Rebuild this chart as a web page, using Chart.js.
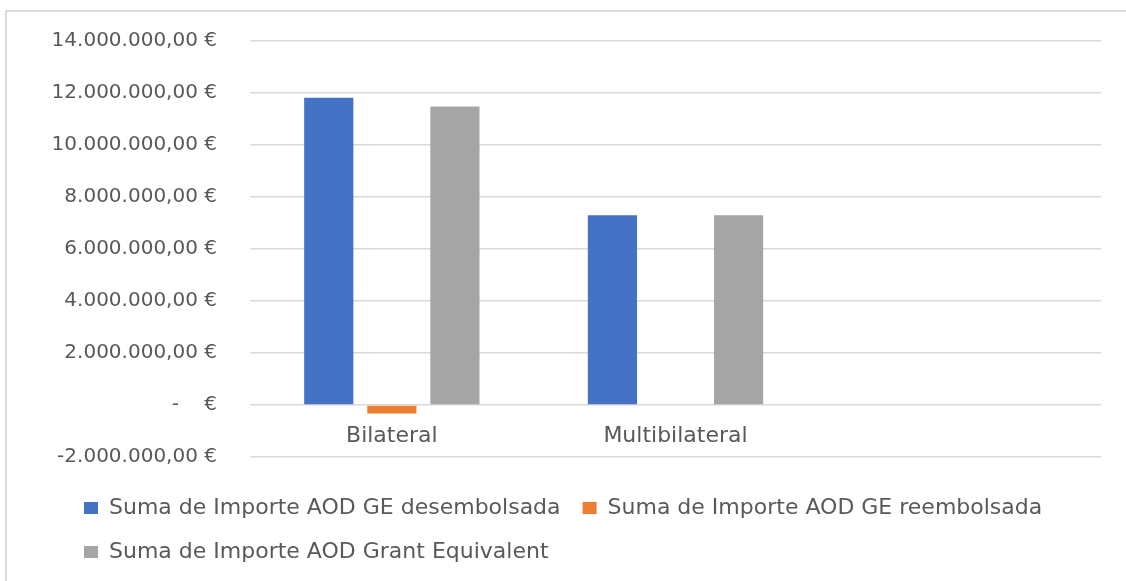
<!DOCTYPE html>
<html>
<head>
<meta charset="utf-8">
<script src="https://cdn.jsdelivr.net/npm/chart.js@4"></script>
<style>
  body { margin: 0; background: #fff; overflow: hidden; }
  #wrap { width: 1126px; height: 581px; position: relative; }
</style>
</head>
<body>
<div id="wrap"><canvas id="aodChart"></canvas></div>
<script>
const categories = ['Bilateral', 'Multibilateral', ''];
const desembolsada = [11820000, 7300000, null];
const reembolsada = [-330000, 0, null];
const grantEquivalent = [11480000, 7300000, null];
const seriesNames = [
  'Suma de Importe AOD GE desembolsada',
  'Suma de Importe AOD GE reembolsada',
  'Suma de Importe AOD Grant Equivalent'
];

const textColor = '#595959';

// Excel style euro formatting: 14.000.000,00 €
function euro(v) {
  if (v === 0) return '-    €';
  const neg = v < 0;
  let s = Math.abs(v).toFixed(2).split('.');
  let int = s[0].replace(/\B(?=(\d{3})+(?!\d))/g, '.');
  return (neg ? '-' : '') + int + ',' + s[1] + ' €';
}

// light frame round the chart, like the Excel chart area
const frame = {
  id: 'frame',
  afterLayout(chart) {
    // let the long y labels run left of the padded axis box
    chart.scales.y.left = 0;
  },
  beforeDraw(chart) {
    const ctx = chart.ctx;
    ctx.save();
    ctx.fillStyle = '#fff';
    ctx.fillRect(0, 0, chart.width, chart.height);
    ctx.strokeStyle = '#d9d9d9';
    ctx.lineWidth = 2;
    ctx.beginPath();
    ctx.moveTo(6, chart.height);
    ctx.lineTo(6, 11);
    ctx.lineTo(chart.width, 11);
    ctx.stroke();
    ctx.restore();
  }
};

const aodChart = new Chart(document.getElementById('aodChart'), {
  type: 'bar',
  data: {
    labels: categories,
    datasets: [{
      label: seriesNames[0],
      data: desembolsada,
      backgroundColor: '#4472C4'
    }, {
      label: seriesNames[1],
      data: reembolsada,
      backgroundColor: '#ED7D31'
    }, {
      label: seriesNames[2],
      data: grantEquivalent,
      backgroundColor: '#A5A5A5'
    }]
  },
  options: {
    responsive: true,
    maintainAspectRatio: false,
    animation: false,
    categoryPercentage: 0.667,
    barPercentage: 0.78,
    layout: {
      padding: { left: 62, right: 25, top: 41, bottom: 8 }
    },
    scales: {
      x: {
        position: { y: 0 },
        grid: { display: false, drawTicks: false },
        border: { display: false },
        ticks: {
          color: textColor,
          padding: 21,
          font: { family: 'DejaVu Sans', size: 22, lineHeight: 0.9 }
        }
      },
      y: {
        min: -2000000,
        max: 14000000,
        afterFit(scale) { scale.width = 188; },
        grid: {
          color: '#d9d9d9',
          lineWidth: 1.5,
          drawTicks: true,
          tickLength: 30,
          tickColor: 'rgba(0,0,0,0)'
        },
        border: { display: false },
        ticks: {
          stepSize: 2000000,
          color: textColor,
          padding: 3,
          font: { family: 'DejaVu Sans', size: 20 },
          callback: v => euro(v)
        }
      }
    },
    plugins: {
      tooltip: { enabled: false },
      legend: {
        position: 'bottom',
        align: 'start',
        title: { display: true, text: '', padding: 0, font: { size: 15, lineHeight: 1.2 } },
        labels: {
          color: textColor,
          boxWidth: 14,
          boxHeight: 12,
          padding: 22,
          font: { family: 'DejaVu Sans', size: 22 }
        }
      }
    }
  },
  plugins: [frame]
});
</script>
</body>
</html>
